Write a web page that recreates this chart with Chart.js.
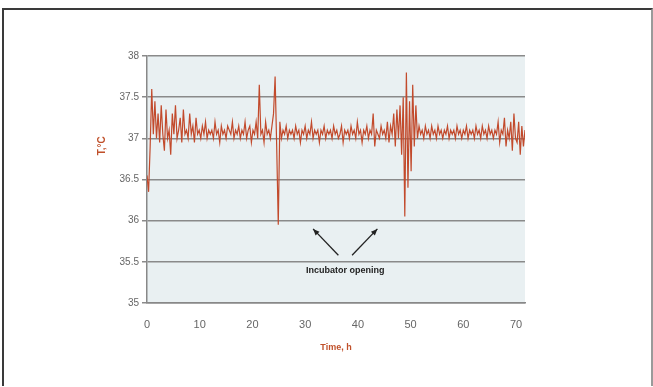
<!DOCTYPE html>
<html><head><meta charset="utf-8">
<script src="https://cdn.jsdelivr.net/npm/chart.js@4/dist/chart.umd.min.js"></script>
<style>
html,body{margin:0;padding:0;background:#fff;}
#frame{position:absolute;left:2px;top:8px;width:647px;height:376px;border:2px solid #3a3a3a;border-right-color:#9a9a9a;border-bottom:none;}
#wrap{position:absolute;left:0;top:0;width:653px;height:387px;}
</style></head>
<body>
<div id="frame"></div>
<div id="wrap"><canvas id="c" width="653" height="387"></canvas></div>
<script>
const sampleStepHours = 0.3;
const temperature = [
36.55,36.35,36.9,37.6,37.05,37.45,37.0,37.3,36.95,37.4,
37.05,36.85,37.35,37.0,37.1,36.8,37.3,37.05,37.4,37.0,
37.1,37.25,36.95,37.35,37.05,37.1,37.0,37.3,37.05,37.15,
36.95,37.25,37.05,37.1,37.0,37.15,37.05,37.2,37.0,37.1,
37.05,37.1,37.0,37.2,37.05,37.1,36.95,37.15,37.05,37.1,
37.0,37.15,37.1,37.05,37.2,37.0,37.1,37.05,37.15,37.0,
37.1,37.05,37.2,37.0,37.1,37.15,36.95,37.1,37.05,37.2,
37.0,37.65,37.05,37.1,36.95,37.2,37.05,37.1,37.0,37.15,
37.3,37.75,36.9,35.95,37.2,37.0,37.1,37.05,37.15,37.0,
37.1,37.05,37.1,37.0,37.15,37.05,37.1,36.95,37.1,37.05,
37.15,37.0,37.1,37.05,37.2,37.0,37.1,37.05,37.1,36.95,
37.1,37.05,37.15,37.0,37.1,37.05,37.1,37.0,37.15,37.05,
37.1,37.0,37.05,37.15,36.95,37.1,37.05,37.1,37.0,37.15,
37.05,37.1,37.0,37.2,37.05,37.1,36.95,37.1,37.05,37.15,
37.0,37.1,37.05,37.3,36.9,37.1,37.05,37.0,37.15,37.05,
37.1,37.0,37.2,36.95,37.15,37.05,37.3,36.9,37.35,37.0,
37.4,36.8,37.5,36.05,37.8,36.4,37.45,36.6,37.65,36.9,
37.4,37.0,37.15,37.05,37.1,37.0,37.15,37.05,37.1,37.0,
37.15,37.05,37.1,37.0,37.15,37.05,37.1,37.0,37.1,37.05,
37.15,37.0,37.1,37.05,37.1,37.0,37.15,37.05,37.1,37.0,
37.1,37.05,37.15,37.0,37.1,37.05,37.1,37.0,37.15,37.05,
37.1,37.0,37.15,37.05,37.1,37.0,37.15,37.05,37.1,37.0,
37.1,37.05,37.2,36.95,37.1,37.05,37.25,36.9,37.1,37.0,
37.2,36.85,37.3,37.0,36.95,37.2,36.8,37.15,36.9,37.1,
37.05
];
const xTicks = [0,10,20,30,40,50,60,70];
const yTicks = [35,35.5,36,36.5,37,37.5,38];
const yTitle = "T,°C";
const annotationText = "Incubator opening";
const arrowFrom = [[36.3,35.58],[38.9,35.58]];
const arrowTo = [[31.5,35.9],[43.7,35.9]];

const points = temperature.map((v,i)=>({x: +(i*sampleStepHours).toFixed(2), y: v}));

const bgPlugin = {
  id:'bg',
  beforeDraw(chart){
    const {ctx, chartArea:a} = chart;
    ctx.save(); ctx.fillStyle='#e9f0f2';
    ctx.fillRect(a.left,a.top,a.right-a.left,a.bottom-a.top);
    ctx.restore();
  },
  afterDatasetsDraw(chart){
    const {ctx, scales:{x,y}} = chart;
    ctx.save();
    ctx.strokeStyle='#222'; ctx.fillStyle='#222'; ctx.lineWidth=1.3;
    for(let k=0;k<arrowFrom.length;k++){
      const x1=x.getPixelForValue(arrowFrom[k][0]), y1=y.getPixelForValue(arrowFrom[k][1]);
      const x2=x.getPixelForValue(arrowTo[k][0]), y2=y.getPixelForValue(arrowTo[k][1]);
      ctx.beginPath(); ctx.moveTo(x1,y1); ctx.lineTo(x2,y2); ctx.stroke();
      const ang=Math.atan2(y2-y1,x2-x1), L=7;
      ctx.beginPath(); ctx.moveTo(x2,y2);
      ctx.lineTo(x2-L*Math.cos(ang-0.4), y2-L*Math.sin(ang-0.4));
      ctx.lineTo(x2-L*Math.cos(ang+0.4), y2-L*Math.sin(ang+0.4));
      ctx.closePath(); ctx.fill();
    }
    ctx.font='bold 9px "Liberation Sans", Arial, sans-serif';
    ctx.textAlign='center'; ctx.textBaseline='middle';
    ctx.fillText(annotationText, x.getPixelForValue(37.6), y.getPixelForValue(35.39));
    // y axis title, placed beside the 37 °C gridline as in the original
    ctx.save();
    ctx.translate(y.left + 2, y.getPixelForValue(36.91));
    ctx.rotate(-Math.PI/2);
    ctx.fillStyle='#c0502a';
    ctx.font='bold 10px "Liberation Sans", Arial, sans-serif';
    ctx.fillText(yTitle, 0, 0);
    ctx.restore();
    ctx.restore();
  }
};

new Chart(document.getElementById('c'), {
  type:'line',
  data:{datasets:[{data:points, borderColor:'#c24a2c', borderWidth:1.2, pointRadius:0, tension:0}]},
  options:{
    responsive:false, animation:false,
    layout:{padding:{left:100,right:128,top:56,bottom:30}},
    plugins:{legend:{display:false}, tooltip:{enabled:false}},
    scales:{
      x:{type:'linear', min:0, max:71.7,
        afterBuildTicks(s){ s.ticks = xTicks.map(v=>({value:v})); },
        afterFit(s){ s.height = 54; },
        grid:{display:false, drawTicks:true},
        border:{color:'#888', width:1.5},
        ticks:{color:'#666', font:{size:11, family:'"Liberation Sans", Arial'}, padding:7, maxRotation:0},
        title:{display:true, text:'Time, h', color:'#c0502a', font:{size:9, weight:'bold', family:'"Liberation Sans", Arial'}, padding:{top:2}}
      },
      y:{min:35, max:38,
        afterBuildTicks(s){ s.ticks = yTicks.map(v=>({value:v})); },
        afterFit(s){ s.width = 47; },
        grid:{color:'#8a8a8a', lineWidth:1.5, tickLength:5, drawTicks:true},
        border:{color:'#888', width:1.5},
        ticks:{color:'#666', font:{size:10, family:'"Liberation Sans", Arial'}, padding:3,
          callback:v=>String(v)}
      }
    }
  },
  plugins:[bgPlugin]
});
</script>
</body></html>
